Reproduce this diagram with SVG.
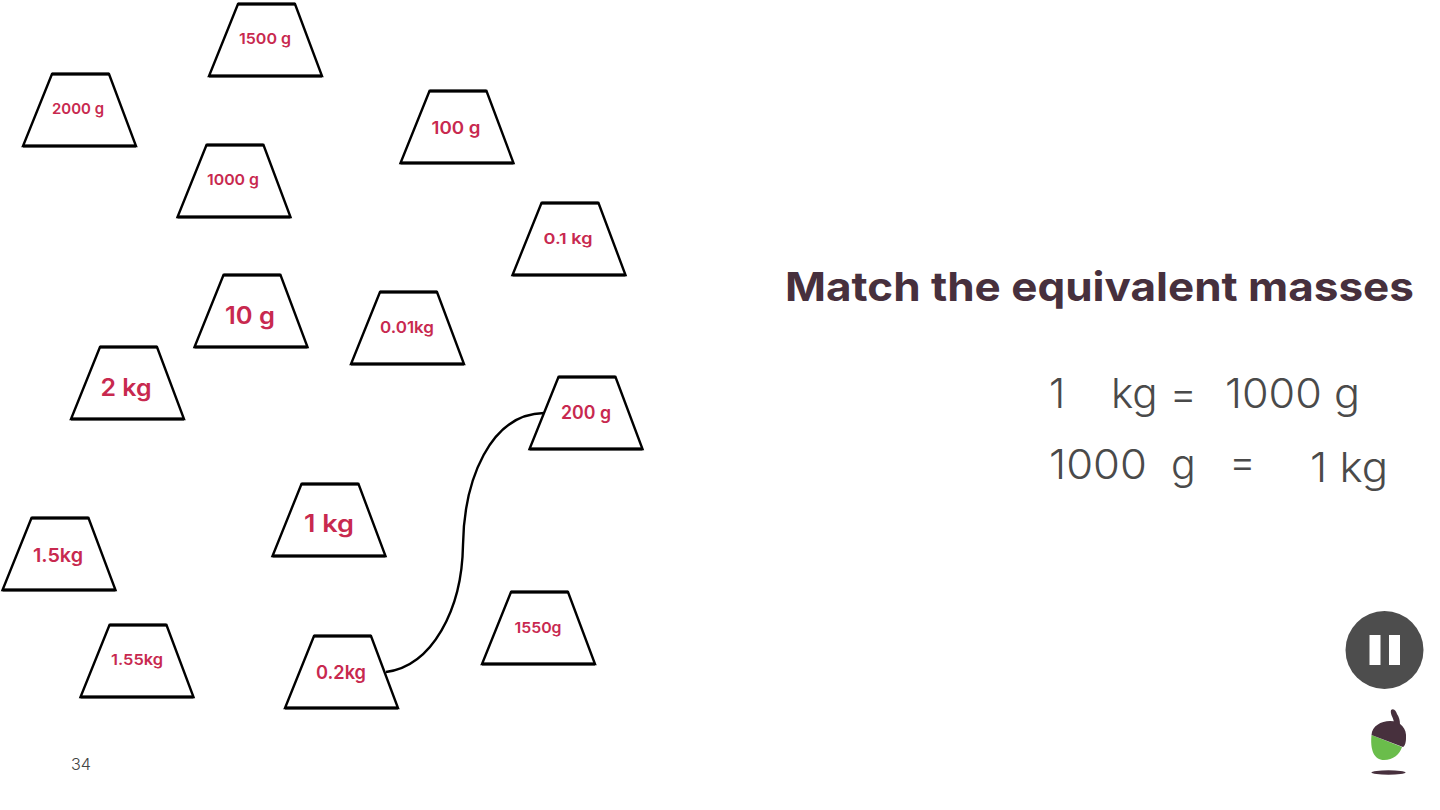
<svg xmlns="http://www.w3.org/2000/svg" width="1440" height="810" viewBox="0 0 1440 810">
<style>
.w{fill:#fff;stroke:#000;stroke-width:2.4;stroke-linejoin:miter}
.l{font-family:"Inter","Liberation Sans",sans-serif;font-weight:600;fill:#c8294f;text-anchor:middle}
.t{font-family:"Inter","Liberation Sans",sans-serif;font-weight:300;font-size:41px;fill:#4a4a4a}
</style>
<defs><g id="tr"><polygon points="29,0 86,0 113,72 0,72"/><line x1="0" y1="72" x2="113" y2="72" stroke-width="3"/><line x1="29" y1="0" x2="86" y2="0" stroke-width="3"/></g></defs>
<rect width="1440" height="810" fill="#fff"/>
<g id="n1500"><use href="#tr" class="w" x="209" y="4"/><text class="l" x="265" y="44" font-size="15" textLength="52" lengthAdjust="spacingAndGlyphs">1500 g</text></g>
<g id="n2000"><use href="#tr" class="w" x="23" y="74"/><text class="l" x="78" y="114" font-size="15" textLength="52" lengthAdjust="spacingAndGlyphs">2000 g</text></g>
<g id="n100"><use href="#tr" class="w" x="400.500" y="91"/><text class="l" x="456" y="134" font-size="17" textLength="49" lengthAdjust="spacingAndGlyphs">100 g</text></g>
<g id="n1000"><use href="#tr" class="w" x="177.500" y="145"/><text class="l" x="233" y="185" font-size="15" textLength="52" lengthAdjust="spacingAndGlyphs">1000 g</text></g>
<g id="n01"><use href="#tr" class="w" x="512.500" y="203"/><text class="l" x="568" y="244" font-size="15" textLength="49" lengthAdjust="spacingAndGlyphs">0.1 kg</text></g>
<g id="n10"><use href="#tr" class="w" x="194.500" y="275"/><text class="l" x="250" y="324" font-size="24" textLength="50" lengthAdjust="spacingAndGlyphs">10 g</text></g>
<g id="n001"><use href="#tr" class="w" x="351" y="292"/><text class="l" x="407" y="333" font-size="16" textLength="54" lengthAdjust="spacingAndGlyphs">0.01kg</text></g>
<g id="n2kg"><use href="#tr" class="w" x="71" y="347"/><text class="l" x="126" y="396" font-size="24" textLength="51" lengthAdjust="spacingAndGlyphs">2 kg</text></g>
<g id="n200"><use href="#tr" class="w" x="529.500" y="377"/><text class="l" x="586" y="419" font-size="18" textLength="50" lengthAdjust="spacingAndGlyphs">200 g</text></g>
<g id="n1kg"><use href="#tr" class="w" x="272.500" y="484"/><text class="l" x="329" y="532" font-size="24" textLength="50" lengthAdjust="spacingAndGlyphs">1 kg</text></g>
<g id="n15"><use href="#tr" class="w" x="2.500" y="518"/><text class="l" x="58" y="562" font-size="19" textLength="50" lengthAdjust="spacingAndGlyphs">1.5kg</text></g>
<g id="n155"><use href="#tr" class="w" x="80.500" y="625"/><text class="l" x="137" y="665" font-size="15" textLength="52" lengthAdjust="spacingAndGlyphs">1.55kg</text></g>
<g id="n02"><use href="#tr" class="w" x="285" y="636"/><text class="l" x="341" y="679" font-size="19" textLength="50" lengthAdjust="spacingAndGlyphs">0.2kg</text></g>
<g id="n1550"><use href="#tr" class="w" x="482" y="592"/><text class="l" x="538" y="633" font-size="15" textLength="47" lengthAdjust="spacingAndGlyphs">1550g</text></g>
<g id="connectors"><path d="M386,672 C432,666 462,610 463,545 C464,480 490,414 544,413" fill="none" stroke="#000" stroke-width="2.4"/></g>
<text x="785" y="301" font-family="Inter,'Liberation Sans',sans-serif" font-weight="700" font-size="40" fill="#47303d" textLength="629" lengthAdjust="spacingAndGlyphs">Match the equivalent masses</text>
<text class="t" x="1049" y="408">1</text>
<text class="t" x="1111" y="408" textLength="86" lengthAdjust="spacingAndGlyphs">kg =</text>
<text class="t" x="1225" y="408" textLength="135" lengthAdjust="spacingAndGlyphs">1000 g</text>
<text class="t" x="1049" y="479" textLength="98" lengthAdjust="spacingAndGlyphs">1000</text>
<text class="t" x="1171" y="479">g</text>
<text class="t" x="1229" y="476">=</text>
<text class="t" x="1310" y="482" textLength="78" lengthAdjust="spacingAndGlyphs">1 kg</text>
<text x="71" y="770" font-family="Inter,'Liberation Sans',sans-serif" font-weight="300" font-size="16" fill="#444" textLength="20" lengthAdjust="spacingAndGlyphs">34</text>
<g id="pause"><circle cx="1384.500" cy="650" r="39" fill="#4d4d4d"/><rect x="1369.500" y="635" width="11" height="30" fill="#fff"/><rect x="1389" y="635" width="11" height="30" fill="#fff"/></g>
<g id="acorn">
<path d="M1371.500,735 C1370,750 1374,760 1384,760 C1393,760 1400,754 1402,747 Z" fill="#6abd4b"/>
<path d="M1371.500,735 C1372,726 1381,721 1390,721 C1401,721 1407,729 1406,738 C1406,742 1405,746 1403,747 Z" fill="#47303d"/>
<path d="M1394,722 C1393,717 1390,714 1391,710 C1394,708 1396,711 1397,714 C1399,717 1400,720 1400,725 Z" fill="#47303d"/>
<ellipse cx="1388.500" cy="772.500" rx="17" ry="2.200" fill="#47303d"/>
</g>
</svg>
